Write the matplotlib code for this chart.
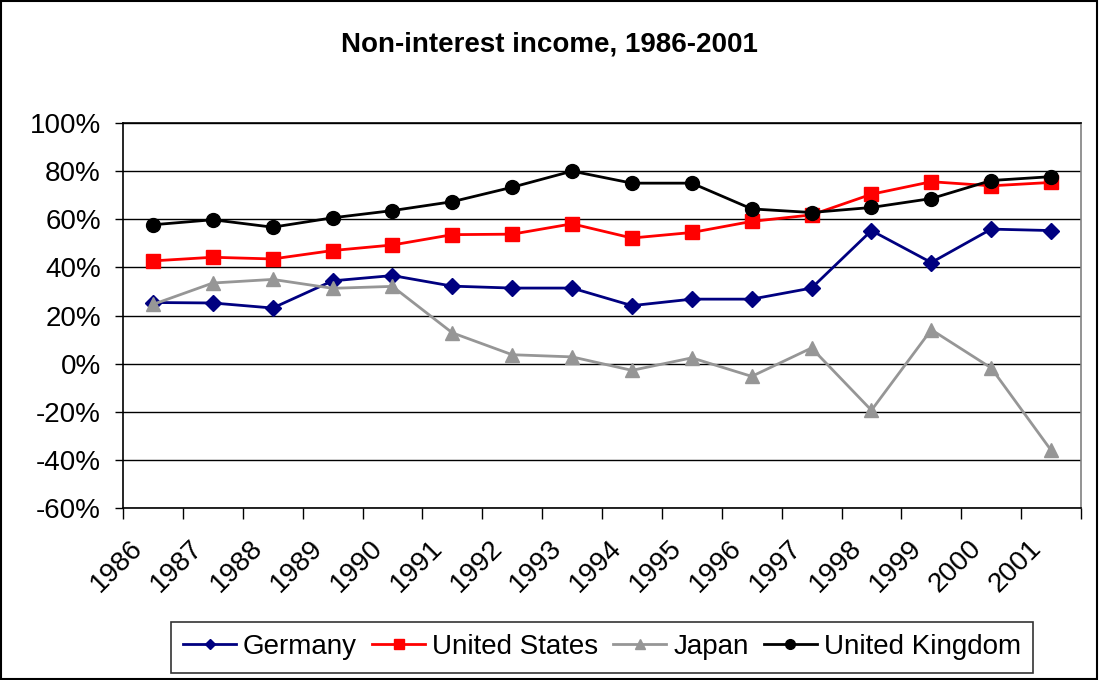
import numpy as np
import matplotlib.pyplot as plt
from matplotlib.patches import Rectangle
from matplotlib.transforms import ScaledTranslation

plt.rcParams['font.family'] = ['Liberation Sans', 'DejaVu Sans']

years = ['1986', '1987', '1988', '1989', '1990', '1991', '1992', '1993',
         '1994', '1995', '1996', '1997', '1998', '1999', '2000', '2001']

germany = [25.4, 25.2, 23.1, 34.4, 36.6, 32.2, 31.4, 31.4,
           24.1, 26.8, 26.8, 31.4, 55.3, 42.0, 55.9, 55.3]
united_states = [42.7, 44.2, 43.5, 47.0, 49.3, 53.6, 53.8, 58.1,
                 52.2, 54.5, 59.1, 61.8, 70.4, 75.6, 73.9, 75.3]
japan = [24.6, 33.5, 35.0, 31.3, 32.1, 12.8, 3.7, 2.8,
         -2.8, 2.4, -5.3, 6.5, -19.4, 14.1, -1.8, -36.0]
united_kingdom = [57.7, 59.8, 56.7, 60.6, 63.6, 67.3, 73.3, 80.0,
                  75.0, 75.0, 64.3, 62.8, 64.9, 68.6, 76.1, 77.7]

yticks = [-60, -40, -20, 0, 20, 40, 60, 80, 100]

fig = plt.figure(figsize=(10.99, 6.8), dpi=100)
ax = fig.add_axes([123 / 1099, 1 - 508 / 680, (1081 - 123) / 1099, (508 - 123) / 680])

x = np.arange(len(years))
ax.plot(x, germany, color='#000080', lw=2, marker='D', ms=8, label='Germany')
ax.plot(x, united_states, color='#FF0000', lw=2, marker='s', ms=10, label='United States')
ax.plot(x, japan, color='#969696', lw=2, marker='^', ms=10, label='Japan')
ax.plot(x, united_kingdom, color='black', lw=2, marker='o', ms=10, label='United Kingdom')

ax.set_xlim(-0.5, len(years) - 0.5)
ax.set_ylim(-60, 100)

ax.set_yticks(yticks)
ax.set_yticklabels([f'{v}%' for v in yticks], fontsize=20)
ax.yaxis.grid(True, color='black', lw=1)
ax.set_axisbelow(True)
ax.tick_params(axis='y', length=6, width=1, direction='out', pad=10)

# boundaries between years get the tick marks, labels sit on the year centres
ax.set_xticks(np.arange(len(years) + 1) - 0.5)
ax.set_xticklabels([])
ax.tick_params(axis='x', which='major', length=8, width=1, direction='out')
ax.set_xticks(x, minor=True)
ax.set_xticklabels(years, minor=True, fontsize=20, rotation=45,
                   ha='right', va='center', rotation_mode='anchor')
ax.tick_params(axis='x', which='minor', length=0, pad=26)
shift = ScaledTranslation(-14 / 100, 0, fig.dpi_scale_trans)
for lbl in ax.get_xticklabels(minor=True):
    lbl.set_transform(lbl.get_transform() + shift)

ax.spines['left'].set_color('black')
ax.spines['bottom'].set_color('black')
ax.spines['top'].set_color('black')
ax.spines['right'].set_color('#808080')
for s in ax.spines.values():
    s.set_linewidth(1.2)

fig.text(0.5, 1 - 44 / 680, 'Non-interest income, 1986-2001', ha='center', va='center',
         fontsize=20, fontweight='bold')

leg = fig.legend(loc='center', bbox_to_anchor=(602 / 1099, 1 - 647 / 680), ncol=4,
                 fontsize=20, frameon=True, fancybox=False, borderpad=0.45,
                 handlelength=1.9, handletextpad=0.25, columnspacing=0.55,
                 markerscale=0.7)
leg.get_frame().set_edgecolor('black')
leg.get_frame().set_linewidth(1.2)

# chart border
fig.patches.append(Rectangle((0.001, 0.002), 0.997, 0.996, transform=fig.transFigure,
                             fill=False, edgecolor='black', lw=1.5))

fig.savefig('out.png', dpi=100)
